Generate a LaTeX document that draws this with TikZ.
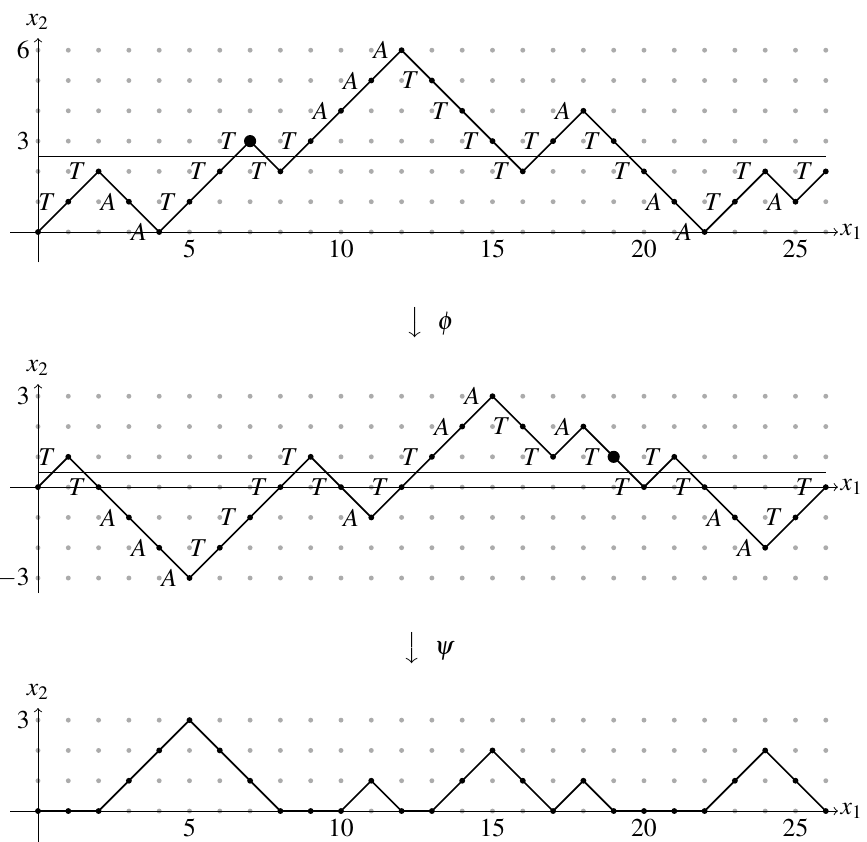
\documentclass[tikz,border=0pt]{standalone}
\usepackage{amssymb}
\usepackage{mathptmx}
\usepackage{tikz}

\begin{document}
\begin{tikzpicture}[x=0.456cm, y=0.456cm, font=\fontsize{11}{13}\selectfont,
	lattice/.style={fill=black!33},
	walk/.style={line width=0.7pt},
	axisline/.style={line width=0.4pt},
	steplabel/.style={left=1.8pt},
	vertex/.style={fill=black}]
	\useasboundingbox (-1.254, 7.657) rectangle (27.36, -20.13);

	\foreach \x in {0,...,26}
		\foreach \y in {0,...,6}
			\fill[lattice] (\x, \y) circle (1.05pt);
	\draw[axisline, ->] (-0.92, 0) -- (26.4, 0) node[right, inner sep=1pt] (ax1) {$x_1$};
	\draw[axisline, ->] (0, -1) -- (0, 6.4) node[above] (ax2) {$x_2$};
	\foreach \x in {5,10,...,25}
		\node[below] (at\x) at (\x, 0) {$\x$};
	\node[left] (ay3) at (0, 3) {$3$};
	\node[left] (ay6) at (0, 6) {$6$};
	\draw[axisline] (0, 2.5) -- (26, 2.5);
	\foreach \h [count=\i from 0] in {0,1,2,1,0,1,2,3,2,3,4,5,6,5,4,3,2,3,4,3,2,1,0,1,2,1,2}
		\coordinate (a\i) at (\i, \h);
	\draw[walk] (a0) \foreach \i in {1,...,26} { -- (a\i) };
	\foreach \i in {0,...,26}
		\fill[vertex] (a\i) circle (1.25pt);
	\fill[vertex] (a7) circle (2.6pt);
	\foreach \l [count=\i] in {T,T,A,A,T,T,T,T,T,A,A,A,T,T,T,T,T,A,T,T,A,A,T,T,A,T}
		\node[steplabel] (la\i) at (a\i) {$\l$};

	\node (phi) at (12.94, -3) {$\big\downarrow\hspace{6pt}\phi$};

	\begin{scope}[shift={(0, -8.42)}]
		\foreach \x in {0,...,26}
			\foreach \y in {-3,...,3}
				\fill[lattice] (\x, \y) circle (1.05pt);
		\draw[axisline, ->] (-0.92, 0) -- (26.4, 0) node[right, inner sep=1pt] (bx1) {$x_1$};
		\draw[axisline, ->] (0, -3.5) -- (0, 3.4) node[above] (bx2) {$x_2$};
		\node[left] (by3) at (0, 3) {$3$};
		\node[left] (bym3) at (0, -3) {$-3$};
		\draw[axisline] (0, 0.5) -- (26, 0.5);
		\foreach \h [count=\i from 0] in {0,1,0,-1,-2,-3,-2,-1,0,1,0,-1,0,1,2,3,2,1,2,1,0,1,0,-1,-2,-1,0}
			\coordinate (b\i) at (\i, \h);
		\draw[walk] (b0) \foreach \i in {1,...,26} { -- (b\i) };
		\foreach \i in {0,...,26}
			\fill[vertex] (b\i) circle (1.25pt);
		\fill[vertex] (b19) circle (2.6pt);
		\foreach \l [count=\i] in {T,T,A,A,A,T,T,T,T,T,A,T,T,A,A,T,T,A,T,T,T,T,A,A,T,T}
			\node[steplabel] (lb\i) at (b\i) {$\l$};
	\end{scope}

	\node (psi) at (12.9, -13.73) {$\big\downarrow\hspace{6pt}\psi$};

	\begin{scope}[shift={(0, -19.11)}]
		\foreach \x in {0,...,26}
			\foreach \y in {0,...,3}
				\fill[lattice] (\x, \y) circle (1.05pt);
		\draw[axisline, ->] (-0.92, 0) -- (26.4, 0) node[right, inner sep=1pt] (cx1) {$x_1$};
		\draw[axisline, ->] (0, -1.1) -- (0, 3.4) node[above] (cx2) {$x_2$};
		\foreach \x in {5,10,...,25}
			\node[below] (ct\x) at (\x, 0) {$\x$};
		\node[left] (cy3) at (0, 3) {$3$};
		\foreach \h [count=\i from 0] in {0,0,0,1,2,3,2,1,0,0,0,1,0,0,1,2,1,0,1,0,0,0,0,1,2,1,0}
			\coordinate (c\i) at (\i, \h);
		\draw[walk] (c0) \foreach \i in {1,...,26} { -- (c\i) };
		\foreach \i in {0,...,26}
			\fill[vertex] (c\i) circle (1.25pt);
	\end{scope}
\end{tikzpicture}
\end{document}
